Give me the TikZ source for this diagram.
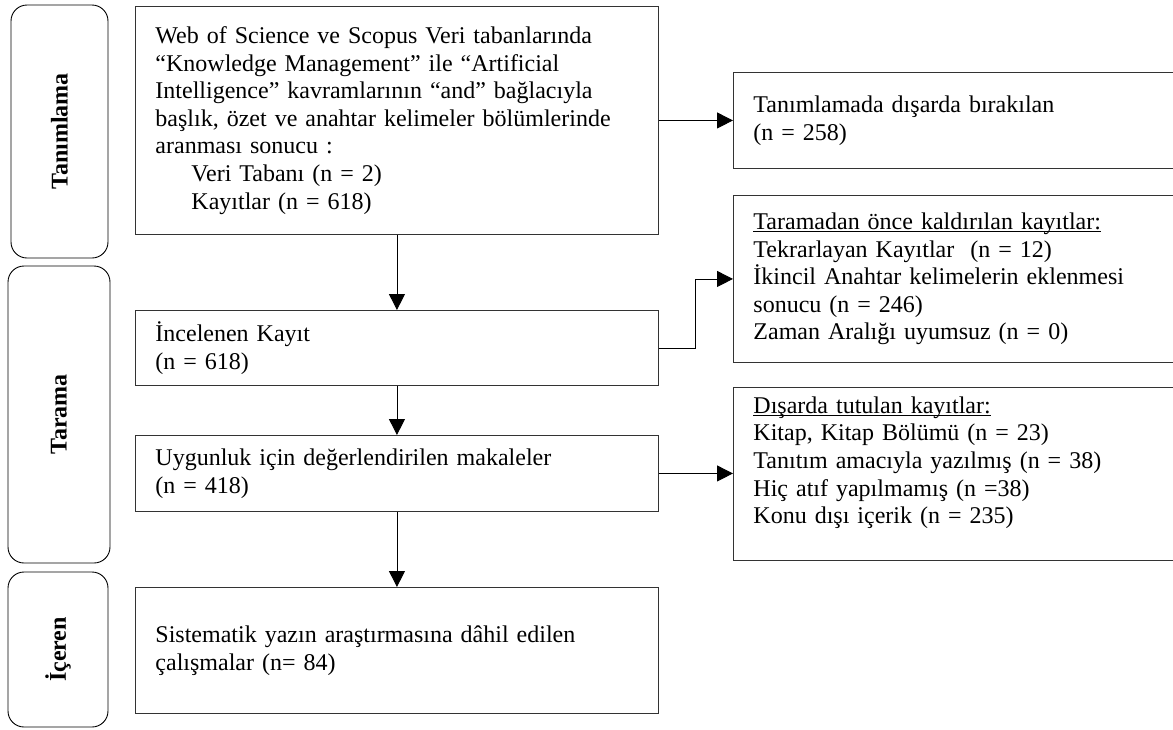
\documentclass[tikz,border=0pt]{standalone}
\usepackage{fontspec}
\setmainfont{Liberation Serif}
\usetikzlibrary{arrows.meta,positioning}
\newcommand{\altcizgi}[1]{\setbox0\hbox{#1}\rlap{\rule[-2.5pt]{\wd0}{1pt}}\box0}

\begin{document}
\begin{tikzpicture}[
    x=1pt, y=-1pt,
    font=\fontsize{24}{27.6}\selectfont,
    box/.style={rectangle, draw=black!80, line width=0.9pt, anchor=north west, align=left, inner xsep=20pt, inner ysep=0pt},
    phase/.style={rectangle, draw, rounded corners=16pt, line width=0.9pt, rotate=90, font=\fontsize{24}{27.6}\selectfont\bfseries},
    arrow/.style={-{Triangle[length=16pt,width=16pt]}, line width=0.9pt}
]
\useasboundingbox (0,0) rectangle (1173,729);
\clip (0,0) rectangle (1173,729);

% phases on the left
\node[phase, minimum width=253pt, minimum height=97pt] (tanim) at (59.5,131.5) {Tanımlama};
\node[phase, minimum width=297pt, minimum height=102pt] (tarama) at (59,414.5) {Tarama};
\node[phase, minimum width=155pt, minimum height=100pt] (iceren) at (58,649.5) {İçeren};

% main column
\node[box, text width=483pt, minimum height=228pt] (kayit) at (135,6) {Web of Science ve Scopus Veri tabanlarında\\
“Knowledge Management” ile “Artificial\\
Intelligence” kavramlarının “and” bağlacıyla\\
başlık, özet ve anahtar kelimeler bölümlerinde\\
aranması sonucu :\\
\hspace*{36pt}Veri Tabanı (n = 2)\\
\hspace*{36pt}Kayıtlar (n = 618)};
\node[box, text width=483pt, minimum height=75pt] (incelenen) at (135,310) {İncelenen Kayıt\\(n = 618)};
\node[box, text width=483pt, minimum height=76pt] (uygun) at (135,435) {Uygunluk için değerlendirilen makaleler\\(n = 418)};
\node[box, text width=483pt, minimum height=126pt] (dahil) at (135,587) {Sistematik yazın araştırmasına dâhil edilen\\çalışmalar (n= 84)};

% right column
\node[box, text width=410pt, minimum height=96pt] (disari) at (733,72) {Tanımlamada dışarda bırakılan\\(n = 258)};
\node[box, text width=410pt, minimum height=167pt] (kaldir) at (733,195) {\altcizgi{Taramadan önce kaldırılan kayıtlar:}\\
Tekrarlayan Kayıtlar\ \ (n = 12)\\
İkincil Anahtar kelimelerin eklenmesi\\
sonucu (n = 246)\\
Zaman Aralığı uyumsuz (n = 0)};
\node[box, text width=410pt, minimum height=173pt] (tutulan) at (733,387) {\altcizgi{Dışarda tutulan kayıtlar:}\\
Kitap, Kitap Bölümü (n = 23)\\
Tanıtım amacıyla yazılmış (n = 38)\\
Hiç atıf yapılmamış (n =38)\\
Konu dışı içerik (n = 235)\\
\mbox{}};

% connectors
\draw[arrow] (kayit) -- (incelenen);
\draw[arrow] (incelenen) -- (uygun);
\draw[arrow] (uygun) -- (dahil);
\draw[arrow] (kayit) -- (disari);
\draw[arrow] (incelenen.east) -- ++(37,0) |- (kaldir.west);
\draw[arrow] (uygun.east) -- (uygun.east -| tutulan.west);

\end{tikzpicture}
\end{document}
